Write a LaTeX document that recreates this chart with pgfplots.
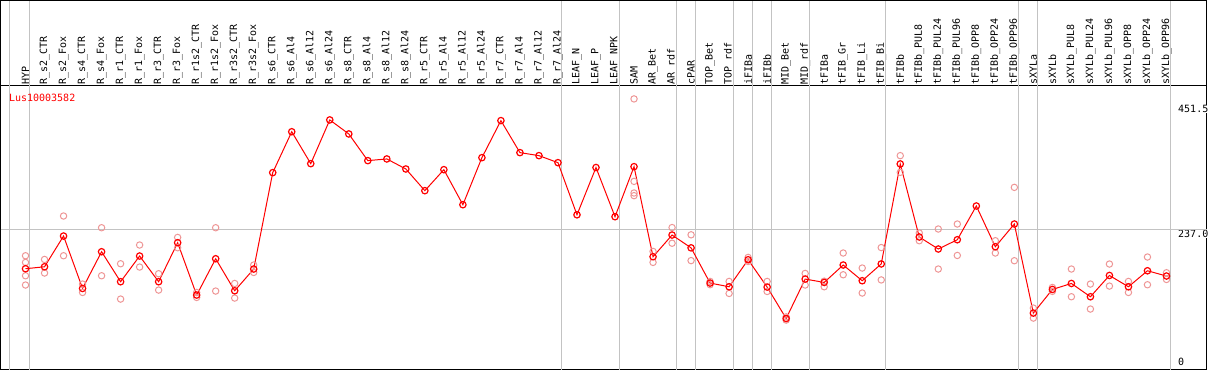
\documentclass[border=0pt]{standalone}
\usepackage{fontspec}
\setmonofont{DejaVu Sans Mono}
\usepackage{pgfplots}
\pgfplotsset{compat=1.18}
\definecolor{mainred}{RGB}{255,0,0}
\definecolor{reppink}{RGB}{238,150,150}
\definecolor{sepgray}{RGB}{195,195,195}
\newcommand{\lblfont}{\ttfamily\fontsize{10}{10}\selectfont}
\begin{document}
\begin{tikzpicture}
\begin{axis}[
  scale only axis, width=1205pt, height=283.7pt,
  xmin=-0.3158, xmax=63.105, ymin=-5.8, ymax=483.8,
  clip=false,
  axis line style={black, line width=1pt},
  xtick={1,...,61},
  xticklabels={HYP,R\_s2\_CTR,R\_s2\_Fox,R\_s4\_CTR,R\_s4\_Fox,R\_r1\_CTR,R\_r1\_Fox,R\_r3\_CTR,R\_r3\_Fox,R\_r1s2\_CTR,R\_r1s2\_Fox,R\_r3s2\_CTR,R\_r3s2\_Fox,R\_s6\_CTR,R\_s6\_Al4,R\_s6\_Al12,R\_s6\_Al24,R\_s8\_CTR,R\_s8\_Al4,R\_s8\_Al12,R\_s8\_Al24,R\_r5\_CTR,R\_r5\_Al4,R\_r5\_Al12,R\_r5\_Al24,R\_r7\_CTR,R\_r7\_Al4,R\_r7\_Al12,R\_r7\_Al24,LEAF\_N,LEAF\_P,LEAF\_NPK,SAM,AR\_Bet,AR\_rdf,cPAR,TOP\_Bet,TOP\_rdf,iFIBa,iFIBb,MID\_Bet,MID\_rdf,tFIBa,tFIB\_Gr,tFIB\_Li,tFIB\_Bi,tFIBb,tFIBb\_PUL8,tFIBb\_PUL24,tFIBb\_PUL96,tFIBb\_OPP8,tFIBb\_OPP24,tFIBb\_OPP96,sXYLa,sXYLb,sXYLb\_PUL8,sXYLb\_PUL24,sXYLb\_PUL96,sXYLb\_OPP8,sXYLb\_OPP24,sXYLb\_OPP96},
  xticklabel pos=upper,
  xticklabel style={rotate=90, anchor=west, inner sep=1pt, font=\lblfont},
  ytick={237,451.5}, yticklabels={237.0,451.5},
  yticklabel pos=right,
  yticklabel style={anchor=north west, xshift=-29pt, inner sep=0.5pt, fill=white, font=\lblfont},
  extra y ticks={0}, extra y tick labels={0},
  extra y tick style={yticklabel style={anchor=south west, fill=none}},
  major tick length=0pt,
  tick style={draw=none},
]
\pgfplotsinvokeforeach{0.16,1.21,29.21,32.21,35.21,36.21,38.21,39.21,40.21,42.21,46.21,53.21,54.21,61.21}{
  \draw[sepgray, line width=1pt] (axis cs:#1,-5.8) -- (axis cs:#1,631);
}
\draw[sepgray, line width=1pt] (axis cs:-0.3158,237) -- (axis cs:63.105,237);
\draw[black, line width=1pt] (axis cs:-0.3158,483.8) -- (axis cs:-0.3158,631) -- (axis cs:63.105,631) -- (axis cs:63.105,483.8);
\path ([xshift=2.5pt]axis cs:63.105,631);

\addplot[only marks, reppink, mark=o, mark size=3.2pt, mark options={line width=1pt}] table {
x y
1 190.9
1 179.4
1 156.4
1 140.4
2 184.5
2 161.1
3 259.4
3 190.9
4 142.1
4 127.6
5 239.2
5 156.4
6 177.1
6 116.2
7 209.4
7 171.4
8 159.9
8 131.7
9 222.5
9 204.7
10 127.6
10 119.0
11 239.2
11 130.0
12 143.1
12 117.9
13 174.9
13 162.1
33 461.3
33 319.1
33 299.1
33 294.5
34 198.3
34 179.4
35 239.5
35 212.5
36 227.0
36 182.5
37 146.6
37 141.0
38 146.6
38 125.9
39 188.0
39 181.0
40 146.6
40 129.3
41 85.5
41 80.0
42 160.4
42 140.4
43 147.0
43 137.4
44 195.6
44 158.1
45 169.7
45 126.6
46 205.0
46 149.2
47 363.5
47 334.7
48 230.1
48 216.8
49 237.0
49 168.0
50 245.6
50 191.4
52 216.8
52 195.6
53 308.8
53 182.3
54 100.7
54 83.4
55 136.2
55 129.5
56 168.0
56 120.2
57 142.1
57 99.0
58 176.6
58 138.6
59 146.6
59 127.6
60 188.7
60 140.9
61 161.6
61 150.0
};

\addplot[mainred, line width=1pt, mark=o, mark size=3.2pt, mark options={line width=1.2pt}] table {
x y
1 168.5
2 171.9
3 224.9
4 134.5
5 197.8
6 146.1
7 190.4
8 146.1
9 213.4
10 123.1
11 185.7
12 130.5
13 168.0
14 334.2
15 404.7
16 349.7
17 425.1
18 400.9
19 354.9
20 357.8
21 340.5
22 303.1
23 339.3
24 278.9
25 360.0
26 423.9
27 368.7
28 363.5
29 351.4
30 261.5
31 343.0
32 258.2
33 344.5
34 189.2
35 226.6
36 204.5
37 143.8
38 137.4
39 184.0
40 136.9
41 82.7
42 150.7
43 144.9
44 174.9
45 147.8
46 176.8
47 349.2
48 223.2
49 202.5
50 218.5
51 276.7
52 206.5
53 245.6
54 92.0
55 132.8
56 143.1
57 120.2
58 156.9
59 137.4
60 165.0
61 155.9
};

\node[anchor=west, text=mainred, inner sep=0pt, font=\lblfont] at ([xshift=8.3pt,yshift=-12pt]rel axis cs:0,1) {Lus10003582};
\end{axis}
\end{tikzpicture}
\end{document}
